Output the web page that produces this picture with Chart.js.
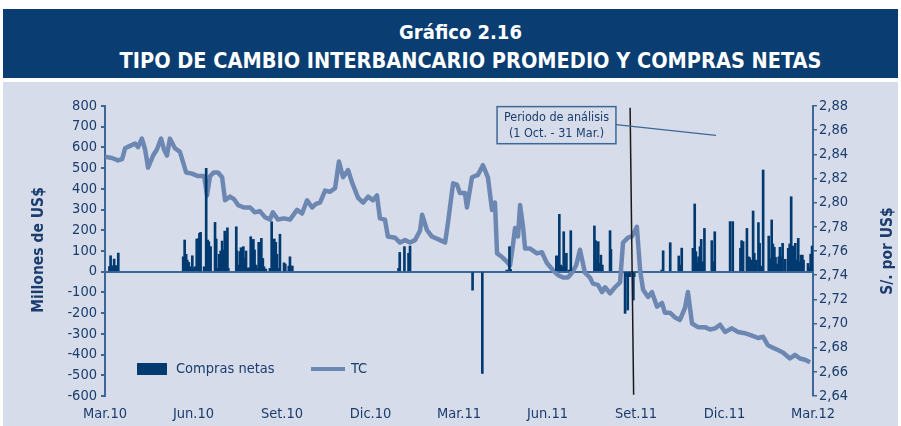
<!DOCTYPE html>
<html>
<head>
<meta charset="utf-8">
<script src="https://cdn.jsdelivr.net/npm/chart.js@4.4.0/dist/chart.umd.min.js"></script>
<style>
  body { margin: 0; background: #fff; width: 901px; height: 426px; overflow: hidden; position: relative; }
  #banner { position: absolute; left: 3px; top: 9px; width: 895px; height: 69px; background: #0a3d72; color: #fff;
            text-align: center; font-family: "DejaVu Sans Condensed", "DejaVu Sans", sans-serif; font-weight: bold; }
  #t1 { position: absolute; left: 20px; right: 0; top: 11px; font-size: 20px; line-height: 24px; }
  #t2 { position: absolute; left: 40px; right: 0; top: 39px; font-size: 21.5px; line-height: 26px; }
  #panel { position: absolute; left: 3px; top: 82px; width: 895px; height: 344px; background: #d6dce9; }
</style>
</head>
<body>
<div id="banner">
  <div id="t1">Gráfico 2.16</div>
  <div id="t2">TIPO DE CAMBIO INTERBANCARIO PROMEDIO Y COMPRAS NETAS</div>
</div>
<div id="panel"><canvas id="myChart" width="895" height="344"></canvas></div>
<script>
// meses desde Mar.10
const xLabels = ['Mar.10', 'Jun.10', 'Set.10', 'Dic.10', 'Mar.11', 'Jun.11', 'Set.11', 'Dic.11', 'Mar.12'];

// Tipo de cambio (S/. por US$)
const tcMes = [
    0, 0.24, 0.44, 0.58, 0.68, 0.85, 1.02, 1.12, 1.25, 1.36, 1.46, 1.63, 1.76, 1.90, 2.0, 2.10, 2.20, 2.37, 2.54, 2.64,
    2.75, 2.95, 3.15, 3.36, 3.46, 3.56, 3.69, 3.83, 3.97, 4.07, 4.24, 4.37, 4.51, 4.71, 4.92, 5.08, 5.25, 5.42, 5.59, 5.69,
    5.86, 6.07, 6.27, 6.51, 6.68, 6.85, 7.02, 7.15, 7.29, 7.46, 7.63, 7.80, 7.93, 8.07, 8.24, 8.37, 8.58, 8.75, 8.92, 9.08,
    9.22, 9.32, 9.49, 9.59, 9.83, 10.0, 10.17, 10.34, 10.51, 10.68, 10.75, 10.92, 11.08, 11.36, 11.53, 11.63, 11.80, 11.93, 12.03, 12.20,
    12.27, 12.44, 12.64, 12.81, 12.98, 13.12, 13.22, 13.29, 13.46, 13.63, 13.73, 13.83, 13.90, 14.0, 14.07, 14.17, 14.24, 14.41, 14.64, 14.81,
    14.98, 15.19, 15.36, 15.53, 15.69, 15.83, 15.97, 16.10, 16.27, 16.44, 16.54, 16.71, 16.85, 16.95, 17.12, 17.29, 17.46, 17.56, 17.73, 17.86,
    17.97, 18.03, 18.14, 18.24, 18.41, 18.54, 18.71, 18.88, 18.98, 19.15, 19.32, 19.49, 19.66, 19.76, 19.90, 20.10, 20.34, 20.51, 20.68, 20.85,
    21.02, 21.25, 21.46, 21.69, 21.93, 22.14, 22.31, 22.47, 22.64, 22.81, 22.98, 23.22, 23.39, 23.56, 23.73, 23.90
];
const tcVal = [
    2.838, 2.837, 2.835, 2.836, 2.845, 2.847, 2.849, 2.846, 2.853, 2.844, 2.829, 2.839, 2.844, 2.853, 2.844, 2.839, 2.853, 2.845, 2.842, 2.834,
    2.825, 2.824, 2.822, 2.822, 2.806, 2.822, 2.825, 2.825, 2.821, 2.802, 2.805, 2.803, 2.798, 2.796, 2.796, 2.792, 2.793, 2.788, 2.786, 2.792,
    2.786, 2.787, 2.786, 2.794, 2.791, 2.802, 2.796, 2.799, 2.800, 2.810, 2.809, 2.812, 2.834, 2.821, 2.827, 2.817, 2.804, 2.800, 2.805, 2.802,
    2.806, 2.787, 2.786, 2.772, 2.771, 2.767, 2.769, 2.767, 2.769, 2.777, 2.790, 2.777, 2.772, 2.769, 2.767, 2.784, 2.816, 2.815, 2.808, 2.808,
    2.796, 2.821, 2.823, 2.831, 2.821, 2.794, 2.800, 2.758, 2.755, 2.751, 2.748, 2.765, 2.779, 2.772, 2.798, 2.780, 2.762, 2.762, 2.758, 2.759,
    2.750, 2.744, 2.740, 2.738, 2.738, 2.742, 2.748, 2.761, 2.742, 2.738, 2.733, 2.732, 2.726, 2.730, 2.725, 2.730, 2.734, 2.767, 2.771, 2.772,
    2.777, 2.780, 2.744, 2.728, 2.722, 2.726, 2.714, 2.717, 2.709, 2.709, 2.705, 2.703, 2.713, 2.726, 2.700, 2.697, 2.697, 2.695, 2.696, 2.699,
    2.693, 2.696, 2.693, 2.692, 2.690, 2.688, 2.689, 2.682, 2.680, 2.678, 2.676, 2.671, 2.674, 2.671, 2.670, 2.668
];

// Compras netas (millones de US$)
const comprasMes = [
    0.15, 0.19, 0.24, 0.31, 0.35, 0.40, 0.45,
    2.65, 2.70, 2.75, 2.79, 2.84, 2.88, 2.93, 2.96, 3.02, 3.06, 3.11, 3.18, 3.20, 3.24, 3.36, 3.43, 3.48, 3.52, 3.58,
    3.73, 3.77, 3.81, 3.87, 3.92, 3.97, 4.01, 4.06, 4.10, 4.15, 4.18, 4.45, 4.48, 4.53, 4.58, 4.61, 4.64, 4.69, 4.74,
    4.78, 4.82, 4.87, 4.94, 4.98, 5.03, 5.07, 5.12, 5.16, 5.21, 5.25, 5.30, 5.35, 5.39, 5.45, 5.59, 5.65, 5.69, 5.74,
    5.79, 5.83, 5.87, 5.93, 6.07, 6.11, 6.23, 6.27, 6.32, 6.35,
    9.95, 9.99, 10.15, 10.29, 10.34,
    12.46, 12.79, 13.62, 13.71, 13.75,
    15.30, 15.34, 15.40, 15.45, 15.49, 15.55, 15.59, 15.64, 15.73, 15.79,
    16.59, 16.63, 16.68, 16.72, 16.77, 16.81, 16.86, 17.12, 17.15,
    17.63, 17.67, 17.72, 17.76, 17.80, 17.91, 17.94,
    18.87, 18.92, 19.16, 19.45, 19.49, 19.55, 19.93, 19.99, 20.03, 20.08, 20.12, 20.17, 20.21, 20.26, 20.32, 20.57, 20.61, 20.67,
    21.19, 21.28, 21.54, 21.58, 21.63, 21.76, 21.81, 21.85, 21.91, 21.97, 22.01, 22.07, 22.15, 22.19, 22.24, 22.31,
    22.50, 22.54, 22.60, 22.64, 22.69, 22.73, 22.78, 22.84, 22.88, 22.93, 22.97, 23.06, 23.16, 23.21, 23.26, 23.31,
    23.36, 23.40, 23.45, 23.50, 23.55, 23.59, 23.64, 23.68, 23.83, 23.88, 23.92, 23.97
];
const comprasVal = [
    25, 77, 29, 61, 29, 29, 90,
    72, 153, 84, 56, 45, 24, 19, 77, 19, 24, 158, 161, 185, 190, 24, 499, 153, 145, 121,
    238, 158, 16, 84, 100, 148, 105, 196, 164, 212, 16, 217, 100, 32, 97, 116, 68, 121, 64,
    100, 16, 19, 169, 145, 156, 105, 32, 16, 142, 52, 161, 64, 24, 13, 16, 241, 116, 158,
    142, 84, 16, 181, 43, 37, 27, 72, 27, 27,
    16, 93, 121, 89, 124,
    -89, -491, 8, 121, 11,
    76, 76, 277, 32, 24, 193, 24, 89, 8, 198,
    221, 150, 56, 145, 40, 80, 32, 198, 108,
    -201, -24, -185, -16, -24, -137, -24,
    8, 101, 140, 76, 32, 114, 113, 327, 97, 43, 72, 121, 156, 48, 209, 150, 48, 193,
    242, 242, 113, 150, 145, 209, 72, 68, 56, 293, 89, 56, 237, 137, 27, 491,
    172, 64, 250, 134, 118, 69, 37, 72, 118, 72, 137, 60, 113, 134, 362, 124,
    118, 137, 56, 161, 48, 80, 80, 56, 40, 21, 85, 124
];

const navy = '#1b3d6d';
const axisBlue = '#3d6797';
const barColor = '#003a70';
const lineColor = '#6d87b3';
const fam = '"DejaVu Sans Condensed", "DejaVu Sans", sans-serif';
const tickFont = { family: fam, size: 14.5 };

const extras = {
    id: 'extras',
    afterDraw(chart) {
        const { ctx, chartArea: a, scales: { x, y } } = chart;
        ctx.save();

        // linea vertical (inicio periodo)
        ctx.strokeStyle = '#1a1a1a';
        ctx.lineWidth = 1.5;
        ctx.beginPath();
        ctx.moveTo(x.getPixelForValue(17.80), y.getPixelForValue(792));
        ctx.lineTo(x.getPixelForValue(17.92), y.getPixelForValue(-594));
        ctx.stroke();

        // recuadro
        const bx1 = x.getPixelForValue(13.29), bx2 = x.getPixelForValue(17.32);
        const by1 = y.getPixelForValue(797), by2 = y.getPixelForValue(618);
        ctx.strokeStyle = axisBlue;
        ctx.lineWidth = 1.5;
        ctx.strokeRect(bx1, by1, bx2 - bx1, by2 - by1);
        ctx.beginPath();
        ctx.lineWidth = 1.2;
        ctx.moveTo(bx2, y.getPixelForValue(710));
        ctx.lineTo(x.getPixelForValue(20.71), y.getPixelForValue(658));
        ctx.stroke();
        ctx.fillStyle = navy;
        ctx.font = '12.5px ' + fam;
        ctx.textAlign = 'center';
        ctx.textBaseline = 'middle';
        ctx.fillText('Periodo de análisis', (bx1 + bx2) / 2, by1 + 11);
        ctx.fillText('(1 Oct. - 31 Mar.)', (bx1 + bx2) / 2, by1 + 27);

        // leyenda
        const ly = a.bottom - 27;
        ctx.fillStyle = barColor;
        ctx.fillRect(a.left + 32, ly - 6, 30, 12);
        ctx.strokeStyle = lineColor;
        ctx.lineWidth = 4;
        ctx.beginPath();
        ctx.moveTo(a.left + 206, ly);
        ctx.lineTo(a.left + 240, ly);
        ctx.stroke();
        ctx.fillStyle = navy;
        ctx.font = '14.5px ' + fam;
        ctx.textAlign = 'left';
        ctx.fillText('Compras netas', a.left + 71, ly);
        ctx.fillText('TC', a.left + 246, ly);

        // titulos de ejes
        ctx.font = 'bold 15.5px ' + fam;
        ctx.textAlign = 'center';
        ctx.save();
        ctx.translate(36, 168);
        ctx.rotate(-Math.PI / 2);
        ctx.fillText('Millones de US$', 0, 0);
        ctx.restore();
        ctx.save();
        ctx.translate(885, 169);
        ctx.rotate(-Math.PI / 2);
        ctx.fillText('S/. por US$', 0, 0);
        ctx.restore();

        ctx.restore();
    }
};

const ctx = document.getElementById('myChart');
new Chart(ctx, {
    type: 'bar',
    data: {
        datasets: [
            {
                type: 'bar',
                label: 'Compras netas',
                data: comprasMes.map((m, i) => ({ x: m, y: comprasVal[i] })),
                backgroundColor: barColor,
                barThickness: 2,
                yAxisID: 'y'
            },
            {
                type: 'line',
                label: 'TC',
                data: tcMes.map((m, i) => ({ x: m, y: tcVal[i] })),
                borderColor: lineColor,
                borderWidth: 4.5,
                borderJoinStyle: 'round',
                pointRadius: 0,
                tension: 0,
                yAxisID: 'y2'
            }
        ]
    },
    options: {
        responsive: false,
        animation: false,
        layout: { padding: { top: 24, left: 0, right: 0, bottom: 0 } },
        plugins: {
            legend: { display: false },
            tooltip: { enabled: false }
        },
        scales: {
            x: {
                type: 'linear',
                min: 0,
                max: 24,
                offset: false,
                grid: { display: false },
                border: { display: false },
                ticks: {
                    stepSize: 3,
                    autoSkip: false,
                    maxRotation: 0,
                    padding: 2,
                    color: navy,
                    font: tickFont,
                    callback: (v) => xLabels[v / 3] || ''
                },
                afterFit: (s) => { s.height = 30; }
            },
            y: {
                position: 'left',
                min: -600,
                max: 800,
                grid: {
                    color: (c) => c.tick && c.tick.value === 0 ? axisBlue : 'transparent',
                    lineWidth: 2,
                    tickColor: axisBlue,
                    tickLength: 4
                },
                border: { display: true, color: axisBlue, width: 2 },
                ticks: { stepSize: 100, padding: 4, color: navy, font: tickFont },
                afterFit: (s) => { s.width = 102; }
            },
            y2: {
                position: 'right',
                min: 2.64,
                max: 2.88,
                grid: { drawOnChartArea: false, tickColor: axisBlue, tickLength: 4, lineWidth: 1.5 },
                border: { display: true, color: axisBlue, width: 2 },
                ticks: {
                    stepSize: 0.02,
                    padding: 2,
                    color: navy,
                    font: tickFont,
                    callback: (v) => v.toFixed(2).replace('.', ',')
                },
                afterFit: (s) => { s.width = 85; }
            }
        }
    },
    plugins: [extras]
});
</script>
</body>
</html>
